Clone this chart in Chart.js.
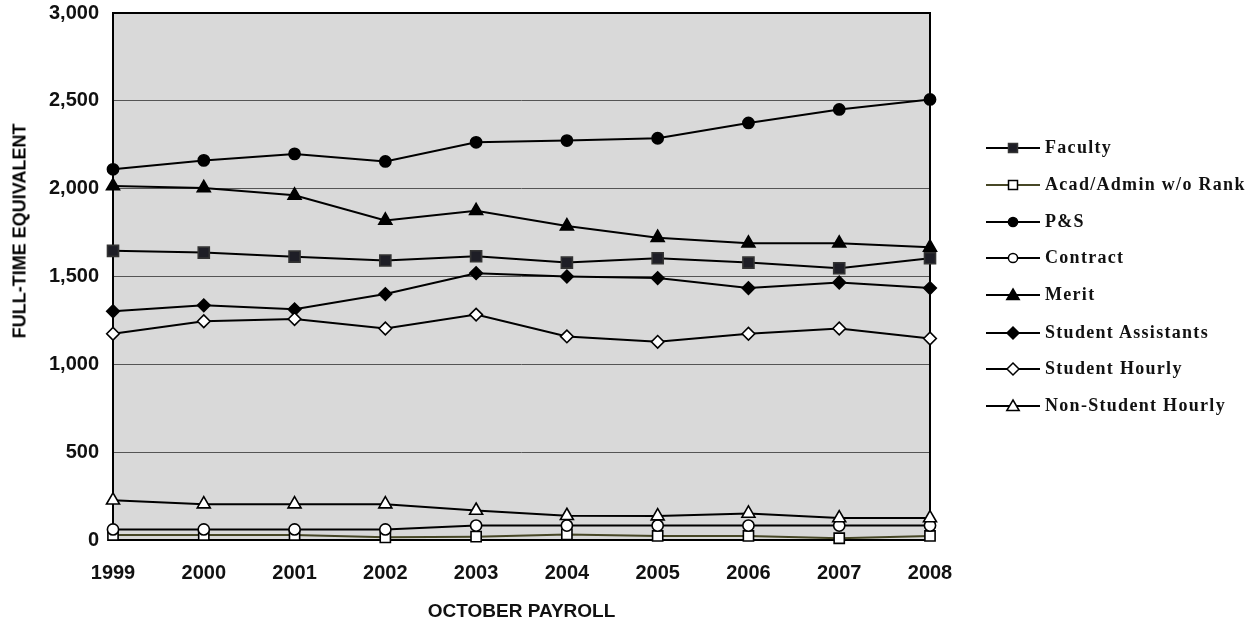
<!DOCTYPE html>
<html>
<head>
<meta charset="utf-8">
<script src="https://cdn.jsdelivr.net/npm/chart.js@4"></script>
<style>
  html, body { margin: 0; padding: 0; background: #fff; }
  #wrap { position: relative; width: 1255px; height: 623px; }
  #c { position: absolute; left: 0; top: 0; }
  #ytitle {
    position: absolute; left: 20px; top: 231px;
    transform: translate(-50%, -50%) rotate(-90deg);
    font: bold 18px "Liberation Sans", Arial, sans-serif; color: #000; white-space: nowrap;
  }
  .lg { position: absolute; left: 986px; height: 20px; display: flex; align-items: center; }
  .lg svg { display: block; }
  .lg span {
    position: absolute; left: 59px; top: 50%; transform: translateY(-52%);
    font: bold 18px "Liberation Serif", "Times New Roman", serif; letter-spacing: 1.3px;
    color: #111; white-space: nowrap;
  }
</style>
</head>
<body>
<div id="wrap">
  <canvas id="c" width="1255" height="623"></canvas>
  <div id="ytitle">FULL-TIME EQUIVALENT</div>
  <div id="legend"></div>
</div>
<script>
const categories = ['1999','2000','2001','2002','2003','2004','2005','2006','2007','2008'];
const faculty = [1646,1636,1613,1591,1615,1579,1604,1579,1547,1604];
const acadAdmin = [28,28,28,15,19,32,23,23,10,23];
const ps = [2110,2161,2198,2155,2264,2274,2287,2374,2451,2508];
const contract = [60,60,60,60,82,82,82,82,82,82];
const merit = [2015,2004,1962,1819,1874,1787,1721,1689,1689,1666];
const studentAssistants = [1302,1336,1313,1400,1519,1500,1491,1434,1466,1434];
const studentHourly = [1174,1245,1258,1204,1283,1159,1128,1174,1204,1147];
const nonStudentHourly = [226,204,204,204,168,138,136,151,125,125];
const yTicks = [0,500,1000,1500,2000,2500,3000];

const seriesDefs = [
  {label:'Faculty', data:faculty, style:'rect', r:7.8, fill:'#1e1e26', stroke:'#333', line:'#000'},
  {label:'Acad/Admin w/o Rank', data:acadAdmin, style:'rect', r:7.2, fill:'#fff', stroke:'#000', line:'#474726'},
  {label:'P&S', data:ps, style:'circle', r:5.6, fill:'#000', stroke:'#000', line:'#000'},
  {label:'Contract', data:contract, style:'circle', r:5.6, fill:'#fff', stroke:'#000', line:'#000'},
  {label:'Merit', data:merit, style:'triangle', r:7.5, fill:'#000', stroke:'#000', line:'#000'},
  {label:'Student Assistants', data:studentAssistants, style:'rectRot', r:6.3, fill:'#000', stroke:'#000', line:'#000'},
  {label:'Student Hourly', data:studentHourly, style:'rectRot', r:6.3, fill:'#fff', stroke:'#000', line:'#000'},
  {label:'Non-Student Hourly', data:nonStudentHourly, style:'triangle', r:7.5, fill:'#fff', stroke:'#000', line:'#000'}
];

const datasets = seriesDefs.map((s, i) => ({
  label: s.label,
  data: s.data,
  borderColor: s.line,
  borderWidth: 2,
  pointStyle: s.style,
  pointRadius: s.r,
  pointHoverRadius: s.r,
  pointBackgroundColor: s.fill,
  pointBorderColor: s.stroke,
  pointBorderWidth: 1.6,
  tension: 0,
  fill: false,
  clip: false,
  order: seriesDefs.length - i
}));

const plotBg = {
  id: 'plotBg',
  beforeDraw(chart) {
    const {ctx, chartArea: a} = chart;
    ctx.save();
    ctx.fillStyle = '#d9d9d9';
    ctx.fillRect(a.left, a.top, a.right - a.left, a.bottom - a.top);
    ctx.restore();
  },
  beforeDatasetsDraw(chart) {
    const {ctx, chartArea: a} = chart;
    ctx.save();
    ctx.strokeStyle = '#000';
    ctx.lineWidth = 2;
    ctx.strokeRect(a.left, a.top, a.right - a.left, a.bottom - a.top);
    ctx.restore();
  }
};

new Chart(document.getElementById('c'), {
  type: 'line',
  data: { labels: categories, datasets },
  plugins: [plotBg],
  options: {
    responsive: false,
    animation: false,
    events: [],
    layout: { padding: { left: 0, top: 13, right: 325, bottom: 0 } },
    plugins: { legend: { display: false }, tooltip: { enabled: false } },
    scales: {
      x: {
        offset: false,
        grid: { display: false, drawTicks: false },
        border: { display: false },
        ticks: { padding: 21, color: '#111', font: { family: 'Liberation Sans', size: 20, weight: 'bold' }, maxRotation: 0 },
        title: { display: true, text: 'OCTOBER PAYROLL', color: '#111', padding: { top: 0, bottom: 0 },
                 font: { family: 'Liberation Sans', size: 19, weight: 'bold', lineHeight: 1.2 } },
        afterFit(scale) { scale.height = 83; scale.paddingLeft = 0; scale.paddingRight = 0; }
      },
      y: {
        min: 0, max: 3000,
        afterBuildTicks(scale) { scale.ticks = yTicks.map(v => ({ value: v })); },
        grid: { color: '#555', lineWidth: 1, drawTicks: false },
        border: { display: false },
        ticks: { padding: 14, color: '#111', font: { family: 'Liberation Sans', size: 20, weight: 'bold' },
                 callback: v => v.toLocaleString('en-US') },
        afterFit(scale) { scale.width = 113; scale.paddingTop = 0; scale.paddingBottom = 0; }
      }
    }
  }
});

// HTML legend
const legendY = [148, 185, 222, 258, 295, 333, 369, 406];
const legend = document.getElementById('legend');
function markerSvg(s) {
  const cx = 27, cy = 10;
  let shape = '';
  const st = `fill="${s.fill}" stroke="${s.stroke}" stroke-width="1.5"`;
  if (s.style === 'rect') shape = `<rect x="${cx-4.5}" y="${cy-4.5}" width="9" height="9" ${st}/>`;
  else if (s.style === 'circle') shape = `<circle cx="${cx}" cy="${cy}" r="4.6" ${st}/>`;
  else if (s.style === 'triangle') shape = `<polygon points="${cx},${cy-6} ${cx+6.2},${cy+4.5} ${cx-6.2},${cy+4.5}" ${st}/>`;
  else if (s.style === 'rectRot') shape = `<polygon points="${cx},${cy-6} ${cx+6},${cy} ${cx},${cy+6} ${cx-6},${cy}" ${st}/>`;
  return `<svg width="54" height="20"><line x1="0" y1="${cy}" x2="54" y2="${cy}" stroke="${s.line}" stroke-width="2"/>${shape}</svg>`;
}
seriesDefs.forEach((s, i) => {
  const d = document.createElement('div');
  d.className = 'lg';
  d.style.top = (legendY[i] - 10) + 'px';
  d.innerHTML = markerSvg(s) + '<span></span>';
  d.querySelector('span').textContent = s.label;
  legend.appendChild(d);
});
</script>
</body>
</html>
